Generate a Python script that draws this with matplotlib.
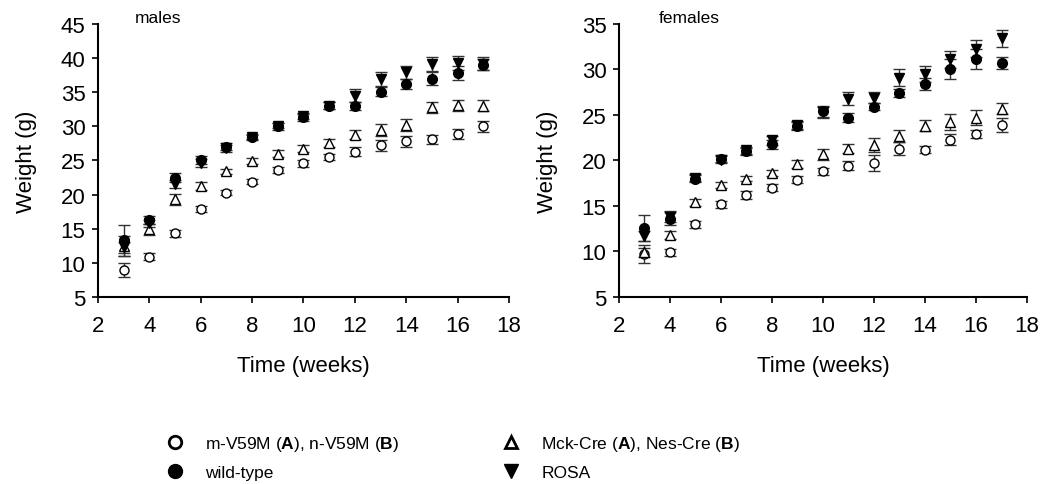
import numpy as np
import matplotlib
matplotlib.use("Agg")
import matplotlib.pyplot as plt
from matplotlib.lines import Line2D

plt.rcParams["font.family"] = ["Liberation Sans", "DejaVu Sans"]
plt.rcParams["mathtext.fontset"] = "custom"
plt.rcParams["mathtext.rm"] = "Liberation Sans"
plt.rcParams["mathtext.bf"] = "Liberation Sans:bold"

weeks = np.arange(3, 18)

# males
m_mut = [9.0, 10.9, 14.3, 17.9, 20.3, 21.9, 23.6, 24.6, 25.5, 26.3, 27.2, 27.8, 28.1, 28.9, 30.0]
m_mut_err = [1.0, 0.5, 0.5, 0.5, 0.4, 0.4, 0.4, 0.5, 0.5, 0.6, 0.8, 0.8, 0.7, 0.7, 0.8]
m_cre = [12.5, 14.9, 19.3, 21.3, 23.4, 24.9, 26.0, 26.7, 27.6, 28.8, 29.5, 30.2, 32.8, 33.1, 33.0]
m_cre_err = [1.5, 0.8, 0.8, 0.6, 0.4, 0.4, 0.5, 0.5, 0.6, 0.7, 0.9, 0.9, 0.8, 0.8, 0.8]
m_wt = [13.3, 16.3, 22.5, 25.1, 27.0, 28.5, 30.0, 31.3, 33.0, 33.0, 35.1, 36.2, 37.0, 37.8, 39.0]
m_wt_err = [2.3, 0.6, 0.6, 0.6, 0.5, 0.4, 0.5, 0.5, 0.5, 0.6, 0.6, 0.7, 0.9, 1.0, 0.8]
m_rosa = [12.3, 15.8, 21.6, 24.6, 26.8, 28.4, 30.1, 31.5, 33.0, 34.5, 36.9, 37.9, 39.1, 39.3, 39.2]
m_rosa_err = [0.8, 0.5, 0.6, 0.6, 0.5, 0.4, 0.4, 0.5, 0.5, 0.9, 1.0, 0.9, 1.0, 1.0, 1.0]

# females
f_mut = [9.7, 9.9, 13.0, 15.2, 16.2, 17.0, 17.9, 18.8, 19.4, 19.7, 21.3, 21.2, 22.3, 22.9, 23.9]
f_mut_err = [1.0, 0.4, 0.4, 0.4, 0.4, 0.4, 0.4, 0.4, 0.5, 0.9, 0.7, 0.4, 0.6, 0.4, 0.8]
f_cre = [9.9, 11.8, 15.4, 17.3, 18.0, 18.6, 19.6, 20.7, 21.3, 21.7, 22.7, 23.8, 24.2, 24.7, 25.7]
f_cre_err = [0.5, 0.4, 0.4, 0.3, 0.3, 0.3, 0.4, 0.6, 0.5, 0.8, 0.7, 0.6, 0.9, 0.8, 0.6]
f_wt = [12.6, 13.6, 18.0, 20.2, 21.0, 21.8, 23.8, 25.4, 24.7, 25.9, 27.4, 28.4, 30.0, 31.2, 30.7]
f_wt_err = [1.4, 0.7, 0.4, 0.4, 0.4, 0.5, 0.4, 0.6, 0.5, 0.4, 0.4, 0.7, 1.1, 1.1, 0.7]
f_rosa = [11.7, 13.8, 18.1, 20.1, 21.1, 22.2, 23.9, 25.3, 26.8, 26.9, 29.1, 29.5, 31.1, 32.3, 33.4]
f_rosa_err = [0.5, 0.6, 0.4, 0.4, 0.4, 0.5, 0.4, 0.6, 0.7, 0.6, 0.9, 0.9, 0.9, 0.9, 0.9]

labels = ["m-V59M ($\\bf{A}$), n-V59M ($\\bf{B}$)", "wild-type",
          "Mck-Cre ($\\bf{A}$), Nes-Cre ($\\bf{B}$)", "ROSA"]

styles = [
    dict(marker="o", mfc="white", mec="black", ms=6.5),
    dict(marker="^", mfc="white", mec="black", ms=6.5),
    dict(marker="o", mfc="black", mec="black", ms=7),
    dict(marker="v", mfc="black", mec="black", ms=7),
]

fig = plt.figure(figsize=(10.47, 4.85), dpi=100)
ax1 = fig.add_axes([0.0936, 0.3856, 0.3925, 0.563])
ax2 = fig.add_axes([0.5912, 0.3856, 0.3897, 0.563])


def draw(ax, series, ylim, yticks):
    for (y, e), st in zip(series, styles):
        ax.errorbar(weeks, y, yerr=e, linestyle="none", ecolor="#333333",
                    elinewidth=1, capsize=4, capthick=1, mew=1, **st)
    ax.set_xlim(2, 18)
    ax.set_ylim(*ylim)
    ax.set_xticks(range(2, 19, 2))
    ax.set_yticks(yticks)
    for s in ["top", "right"]:
        ax.spines[s].set_visible(False)
    for s in ["left", "bottom"]:
        ax.spines[s].set_linewidth(1.5)
    ax.tick_params(labelsize=16, length=4, width=1.2, direction="out")
    ax.tick_params(axis="x", pad=9)
    ax.tick_params(axis="y", pad=5)
    ax.set_xlabel("Time (weeks)", fontsize=16, labelpad=14)
    ax.set_ylabel("Weight (g)", fontsize=16, labelpad=17)


draw(ax1, [(m_mut, m_mut_err), (m_cre, m_cre_err), (m_wt, m_wt_err), (m_rosa, m_rosa_err)],
     (5, 45), range(5, 46, 5))
draw(ax2, [(f_mut, f_mut_err), (f_cre, f_cre_err), (f_wt, f_wt_err), (f_rosa, f_rosa_err)],
     (5, 35), range(5, 36, 5))

fig.text(0.129, 0.962, "males", fontsize=12.5, va="center")
fig.text(0.629, 0.962, "females", fontsize=12.5, va="center")

handles = [
    Line2D([], [], linestyle="none", marker="o", mfc="white", mec="black", mew=2, ms=9),
    Line2D([], [], linestyle="none", marker="o", mfc="black", mec="black", ms=10),
    Line2D([], [], linestyle="none", marker="^", mfc="white", mec="black", mew=2, ms=9),
    Line2D([], [], linestyle="none", marker="v", mfc="black", mec="black", ms=10),
]
fig.legend(handles, labels, ncol=2, loc="upper left", bbox_to_anchor=(0.144, 0.135),
           frameon=False, fontsize=12.5, handlelength=1, handletextpad=1.25,
           columnspacing=5.9, labelspacing=0.65)

fig.savefig("out.png", dpi=100)
